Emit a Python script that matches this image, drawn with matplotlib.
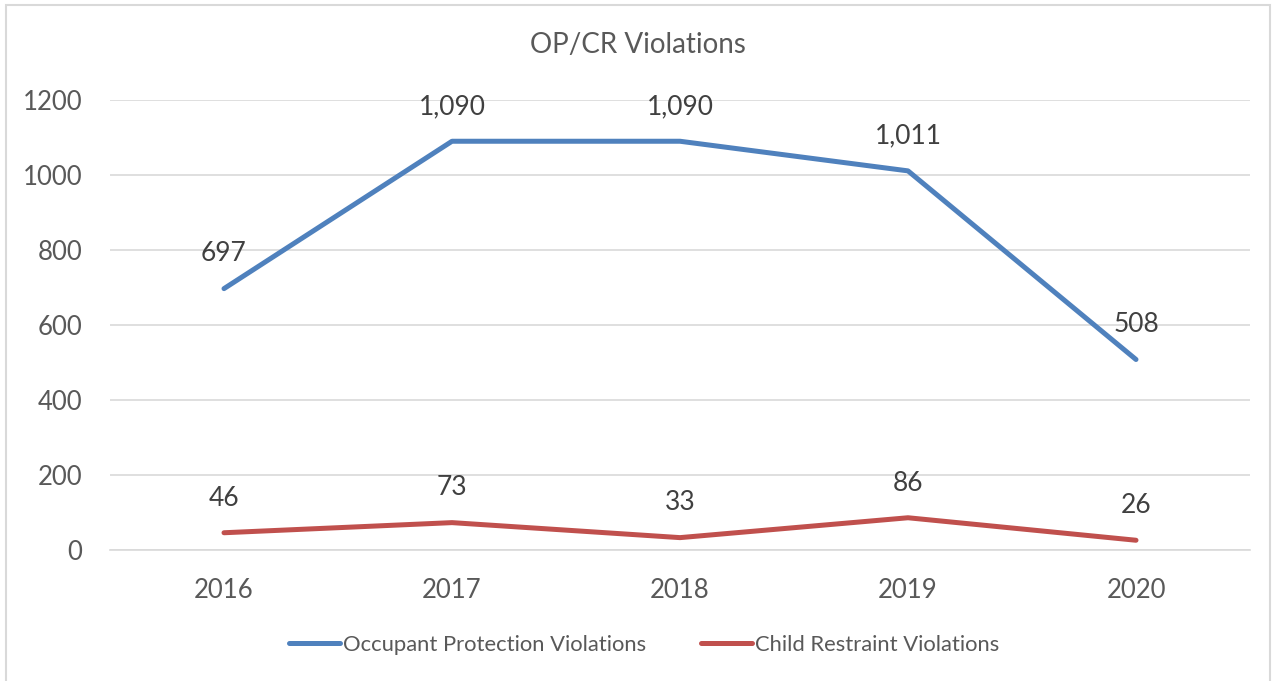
import matplotlib.pyplot as plt
from matplotlib.lines import Line2D

years = ['2016', '2017', '2018', '2019', '2020']
occupant = [697, 1090, 1090, 1011, 508]
child = [46, 73, 33, 86, 26]
labels = ['Occupant Protection Violations', 'Child Restraint Violations']
colors = ['#4F81BD', '#C0504D']

plt.rcParams['font.family'] = ['Lato', 'DejaVu Sans']

fig = plt.figure(figsize=(12.76, 6.81), dpi=100)
ax = fig.add_axes([110/1276, 1-550/681, 1140/1276, 450/681])

x = range(len(years))
for vals, col, lab in [(occupant, colors[0], labels[0]), (child, colors[1], labels[1])]:
    ax.plot(x, vals, color=col, lw=3.6, solid_capstyle='round', label=lab)
    for xi, v in zip(x, vals):
        ax.annotate(f'{v:,}', (xi, v), xytext=(0, 25), textcoords='offset points',
                    ha='center', va='center', fontsize=19, color='#404040')

ax.set_xlim(-0.5, 4.5)
ax.set_ylim(0, 1200)
ax.set_yticks(range(0, 1201, 200))
ax.set_xticks(list(x))
ax.set_xticklabels(years)
ax.grid(axis='y', color='#D9D9D9', lw=1.2)
ax.set_axisbelow(True)
for s in ['top', 'right', 'left']:
    ax.spines[s].set_visible(False)
ax.spines['bottom'].set_color('#D9D9D9')
ax.spines['bottom'].set_linewidth(1.2)
ax.tick_params(length=0, labelsize=18.5, colors='#595959', pad=20)
ax.tick_params(axis='y', pad=20)

fig.text(0.5, 1-45/681, 'OP/CR Violations', ha='center', va='center', fontsize=20, color='#595959')

handles = [Line2D([], [], color=c, lw=3.6, solid_capstyle='round') for c in colors]
fig.legend(handles, labels, loc='center', bbox_to_anchor=(0.505, 1-645/681), ncol=2,
           frameon=False, fontsize=15.8, labelcolor='#595959', handlelength=2.3,
           handletextpad=0.15, columnspacing=2.5)

border = plt.Rectangle((6/1276, -0.05), 1264/1276, 1.05 - 5/681, transform=fig.transFigure,
                       fill=False, edgecolor='#D9D9D9', lw=1.5)
fig.patches.append(border)

fig.savefig('out.png', dpi=100)
